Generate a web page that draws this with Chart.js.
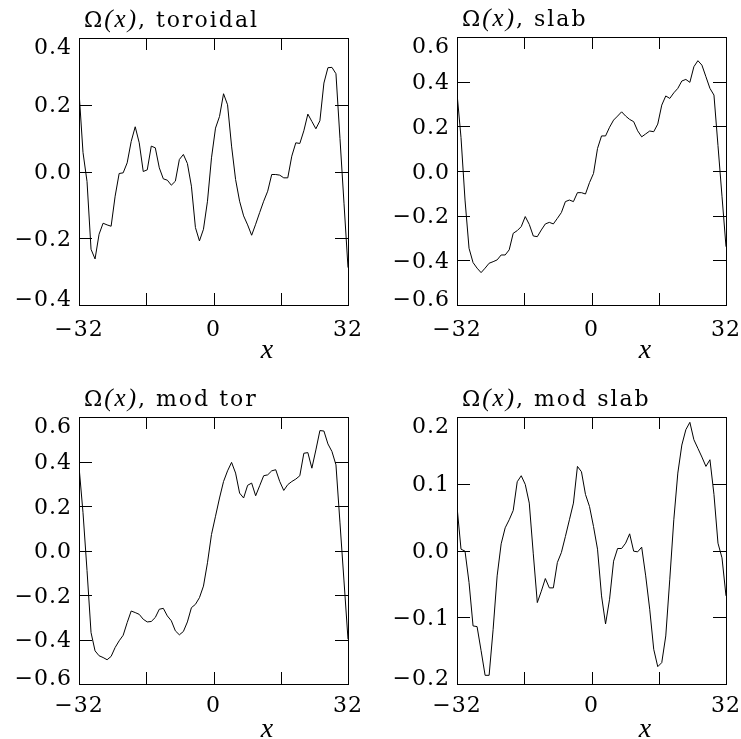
<!DOCTYPE html>
<html>
<head>
<meta charset="utf-8">
<title>Ω(x) profiles</title>
<script src="https://cdn.jsdelivr.net/npm/chart.js@4.4.1/dist/chart.umd.min.js"></script>
<style>
  html, body { margin: 0; padding: 0; background: #fff; }
  #wrap { position: relative; width: 741px; height: 739px; overflow: hidden; }
  #wrap canvas { position: absolute; }
</style>
</head>
<body>
<div id="wrap">
  <canvas id="omega-tor" width="370" height="370" style="left:0;top:0"></canvas>
  <canvas id="omega-slab" width="371" height="370" style="left:370px;top:0"></canvas>
  <canvas id="omega-modtor" width="370" height="369" style="left:0;top:370px"></canvas>
  <canvas id="omega-modslab" width="371" height="369" style="left:370px;top:370px"></canvas>
</div>
<script>
// sample grid: 68 equally spaced points from x = -32 to x = 32
const xStart = -32;
const xEnd = 32;
const nSamples = 68;
const sampleX = Array.from({ length: nSamples }, (_, i) => xStart + i * (xEnd - xStart) / (nSamples - 1));

const omegaToroidal = [
   0.240,  0.057, -0.030, -0.233, -0.262, -0.188, -0.155, -0.160, -0.164, -0.074,
  -0.006, -0.004,  0.026,  0.090,  0.134,  0.086,  0.000,  0.005,  0.076,  0.071,
   0.011, -0.022, -0.026, -0.041, -0.029,  0.036,  0.051,  0.024, -0.044, -0.168,
  -0.208, -0.173, -0.089,  0.041,  0.130,  0.165,  0.233,  0.200,  0.076, -0.024,
  -0.089, -0.133, -0.160, -0.191, -0.158, -0.123, -0.089, -0.059, -0.009, -0.009,
  -0.011, -0.019, -0.019,  0.046,  0.086,  0.084,  0.122,  0.172,  0.150,  0.128,
   0.152,  0.265,  0.311,  0.312,  0.293,  0.099, -0.095, -0.288
];

const omegaSlab = [
   0.348,  0.150, -0.130, -0.346, -0.410, -0.435, -0.455, -0.435, -0.413, -0.406,
  -0.398, -0.376, -0.376, -0.353, -0.279, -0.267, -0.249, -0.204, -0.239, -0.291,
  -0.294, -0.264, -0.237, -0.230, -0.237, -0.212, -0.186, -0.137, -0.130, -0.137,
  -0.097, -0.097, -0.103, -0.052, -0.011,  0.101,  0.157,  0.157,  0.196,  0.228,
   0.246,  0.265,  0.246,  0.231,  0.221,  0.180,  0.153,  0.166,  0.179,  0.176,
   0.210,  0.295,  0.336,  0.325,  0.350,  0.370,  0.403,  0.410,  0.397,  0.467,
   0.494,  0.474,  0.422,  0.370,  0.340,  0.114, -0.113, -0.339
];

const omegaModTor = [
   0.378,  0.170, -0.090, -0.369, -0.451, -0.473, -0.481, -0.491, -0.476, -0.436,
  -0.406, -0.381, -0.324, -0.272, -0.279, -0.287, -0.309, -0.321, -0.319, -0.301,
  -0.264, -0.260, -0.294, -0.316, -0.361, -0.379, -0.364, -0.321, -0.257, -0.242,
  -0.212, -0.160, -0.055,  0.072,  0.154,  0.236,  0.310,  0.358,  0.396,  0.348,
   0.258,  0.236,  0.293,  0.303,  0.246,  0.291,  0.336,  0.340,  0.358,  0.363,
   0.310,  0.270,  0.296,  0.310,  0.321,  0.336,  0.437,  0.440,  0.370,  0.452,
   0.539,  0.537,  0.479,  0.445,  0.385,  0.124, -0.137, -0.399
];

const omegaModSlab = [
   0.066,  0.002, -0.001, -0.048, -0.113, -0.114, -0.150, -0.187, -0.187, -0.118,
  -0.038,  0.010,  0.034,  0.046,  0.060,  0.103,  0.112,  0.099,  0.071, -0.005,
  -0.078, -0.061, -0.042, -0.056, -0.056, -0.018, -0.003,  0.021,  0.046,  0.071,
   0.126,  0.118,  0.084,  0.066,  0.036,  0.002, -0.068, -0.110, -0.073, -0.016,
   0.003,  0.003,  0.011,  0.025, -0.001, -0.002,  0.005, -0.038, -0.088, -0.148,
  -0.174, -0.168, -0.128, -0.043,  0.046,  0.116,  0.158,  0.181,  0.192,  0.166,
   0.153,  0.140,  0.126,  0.136,  0.084,  0.011, -0.011, -0.068
];

const panelNames = ['toroidal', 'slab', 'mod tor', 'mod slab'];
const panelSeries = [omegaToroidal, omegaSlab, omegaModTor, omegaModSlab];
const yLimits = [0.4, 0.6, 0.6, 0.2];
const yStepSizes = [0.2, 0.2, 0.2, 0.1];
const xTickStep = 16;
const xLabelled = [-32, 0, 32];

// canvas ids and plot boxes [left, top, right, bottom] inside each canvas
const panelLayout = [
  { id: 'omega-tor',     box: [79, 38, 348, 305], labelPad: 12 },
  { id: 'omega-slab',    box: [87, 37, 356, 305], labelPad: 12 },
  { id: 'omega-modtor',  box: [79, 47, 348, 314], labelPad: 9 },
  { id: 'omega-modslab', box: [87, 47, 356, 314], labelPad: 9 }
];

const serif = '"DejaVu Serif", "Liberation Serif", serif';
const mathItalic = '"Liberation Serif", "DejaVu Serif", serif';
const minus = '\u2212';
const fmtY = v => (v < -1e-9 ? minus : '') + Math.abs(v).toFixed(1);
const fmtX = v => (v < 0 ? minus : '') + Math.abs(v);

// closed frame, inward ticks on all four sides, y labels and titles
const axesFrame = {
  id: 'axesFrame',
  beforeDraw(chart) {
    chart.ctx.letterSpacing = '1px';
  },
  afterDraw(chart, args, opts) {
    const { ctx, chartArea: a, scales: { x, y } } = chart;
    ctx.save();
    ctx.strokeStyle = '#000';
    ctx.lineWidth = 1;
    ctx.beginPath();
    x.ticks.forEach(t => {
      const px = Math.round(x.getPixelForValue(t.value)) + 0.5;
      ctx.moveTo(px, a.bottom); ctx.lineTo(px, a.bottom - 12);
      ctx.moveTo(px, a.top); ctx.lineTo(px, a.top + 12);
    });
    y.ticks.forEach(t => {
      const py = Math.round(y.getPixelForValue(t.value)) + 0.5;
      ctx.moveTo(a.left, py); ctx.lineTo(a.left + 13, py);
      ctx.moveTo(a.right, py); ctx.lineTo(a.right - 13, py);
    });
    ctx.stroke();
    ctx.strokeRect(Math.round(a.left) + 0.5, Math.round(a.top) + 0.5,
                   Math.round(a.right - a.left), Math.round(a.bottom - a.top));

    ctx.fillStyle = '#000';
    ctx.letterSpacing = '1px';
    ctx.font = `22px ${serif}`;
    ctx.textAlign = 'right';
    ctx.textBaseline = 'middle';
    y.ticks.forEach(t => {
      const py = y.getPixelForValue(t.value) + 2;
      const cy = Math.min(Math.max(py, a.top + 10), a.bottom - 5);
      ctx.fillText(fmtY(t.value), a.left - 7, cy);
    });

    // title: Ω(x), <name>
    ctx.textAlign = 'left';
    ctx.textBaseline = 'alphabetic';
    ctx.letterSpacing = '2px';
    let tx = a.left + 5;
    [['\u03A9', `22px ${serif}`], ['(x)', `italic 25px ${mathItalic}`], [', ' + opts.name, `22px ${serif}`]]
      .forEach(([s, font]) => {
        ctx.font = font;
        ctx.fillText(s, tx, a.top - 11);
        tx += ctx.measureText(s).width;
      });

    // axis title
    ctx.letterSpacing = '0px';
    ctx.textAlign = 'center';
    ctx.font = `italic 28px ${mathItalic}`;
    ctx.fillText('x', a.left + 188, a.bottom + 53);
    ctx.restore();
  }
};

panelLayout.forEach((p, k) => {
  const canvas = document.getElementById(p.id);
  const W = canvas.width, H = canvas.height;
  const [left, top, right, bottom] = p.box;
  const values = panelSeries[k];

  new Chart(canvas.getContext('2d'), {
    type: 'line',
    data: {
      datasets: [{
        data: sampleX.map((xv, i) => ({ x: xv, y: values[i] })),
        borderColor: '#000',
        borderWidth: 1,
        pointRadius: 0,
        tension: 0,
        fill: false
      }]
    },
    options: {
      responsive: false,
      animation: false,
      events: [],
      layout: { padding: { left: 0, top: top, right: W - right, bottom: 0 } },
      plugins: {
        legend: { display: false },
        tooltip: { enabled: false },
        axesFrame: { name: panelNames[k] }
      },
      scales: {
        x: {
          type: 'linear',
          min: xStart,
          max: xEnd,
          grid: { display: false, drawTicks: false },
          border: { display: false },
          ticks: {
            stepSize: xTickStep,
            autoSkip: false,
            maxRotation: 0,
            padding: p.labelPad,
            color: '#000',
            font: { family: serif, size: 22 },
            callback: v => xLabelled.includes(v) ? fmtX(v) : ''
          },
          afterFit: s => { s.height = H - bottom; s.paddingLeft = 0; s.paddingRight = 0; }
        },
        y: {
          min: -yLimits[k],
          max: yLimits[k],
          grid: { display: false, drawTicks: false },
          border: { display: false },
          ticks: { stepSize: yStepSizes[k], display: false },
          afterFit: s => { s.width = left; s.paddingTop = 0; s.paddingBottom = 0; }
        }
      }
    },
    plugins: [axesFrame]
  });
});
</script>
</body>
</html>
